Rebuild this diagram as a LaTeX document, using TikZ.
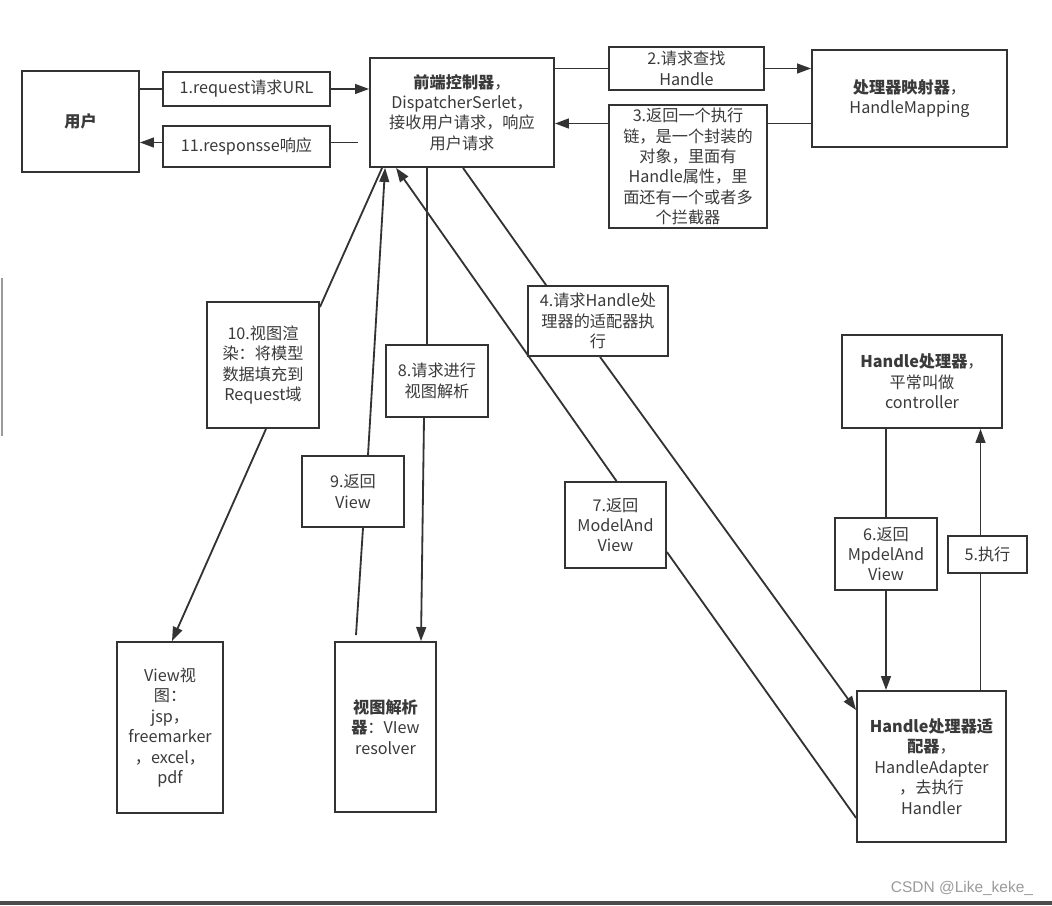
\documentclass[tikz,border=0pt]{standalone}
\usepackage{fontspec}
\setmainfont{Noto Sans CJK SC}
\newfontfamily\wmfont{Liberation Sans}
\usepackage{tikz}
\usetikzlibrary{positioning, arrows.meta, calc}
\usepackage{xcolor}
\definecolor{lineGray}{HTML}{333333}
\definecolor{textGray}{HTML}{3A3A3A}
\definecolor{markGray}{HTML}{9A9A9A}

\begin{document}
\begin{tikzpicture}[x=0.025cm, y=-0.025cm,
      box/.style={rectangle, draw=lineGray, line width=1.3pt, fill=white, align=center, inner sep=0pt, text=textGray, font=\fontsize{11.5}{14.5}\selectfont},
      sz/.style 2 args={minimum width=#1*0.025cm, minimum height=#2*0.025cm},
      link/.style={lineGray, line width=1.3pt},
      arr/.style={link, -{Triangle[length=10pt, width=7pt]}}
    ]
      \useasboundingbox (0,0) rectangle (1052,906);

      \node[box, sz={117}{101}] (user) at (80.5,121.5) {\textbf{用户}};
      \node[box, sz={167}{34}] (lab1) at (246.5,89) {1.request请求URL};
      \node[box, sz={167}{41}] (lab11) at (246.5,146.5) {11.responsse响应};
      \node[box, sz={184}{109}] (ctrl) at (462,112.5) {\textbf{前端控制器}，\\DispatcherSerlet，\\接收用户请求，响应\\用户请求};
      \node[box, sz={155}{43}] (lab2) at (686.5,68.5) {2.请求查找\\Handle};
      \node[box, sz={158}{123}] (lab3) at (688,166.5) {3.返回一个执行\\链，是一个封装的\\对象，里面有\\Handle属性，里\\面还有一个或者多\\个拦截器};
      \node[box, sz={195}{97}] (map) at (909.5,98.5) {\textbf{处理器映射器}，\\HandleMapping};

      \node[box, sz={160}{93}] (proc) at (922,381.5) {\textbf{Handle处理器}，\\平常叫做\\controller};
      \node[box, sz={102}{72}] (lab6) at (886,554) {6.返回\\MpdelAnd\\View};
      \node[box, sz={79}{37}] (lab5) at (987.5,554.5) {5.执行};
      \node[box, sz={149}{151}] (adapt) at (931.5,766.5) {\textbf{Handle处理器适}\\\textbf{配器}，\\HandleAdapter\\，去执行\\Handler};

      \node[box, sz={140}{70}] (lab4) at (598,321) {4.请求Handle处\\理器的适配器执\\行};
      \node[box, sz={101}{86}] (lab7) at (615.5,525) {7.返回\\ModelAnd\\View};
      \node[box, sz={102}{72}] (lab8) at (437,381) {8.请求进行\\视图解析};
      \node[box, sz={102}{71}] (lab9) at (353,491.5) {9.返回\\View};
      \node[box, sz={112}{126}] (lab10) at (263,365) {10.视图渲\\染：将模型\\数据填充到\\Request域};

      \node[box, sz={106}{171}] (view) at (170,727.5) {View视\\图：\\jsp，\\freemarker\\，excel，\\pdf};
      \node[box, sz={101}{170}] (res) at (385.5,727) {\textbf{视图解析}\\\textbf{器}：VIew\\resolver};

      \draw[link] (lab1.west -| user.east) -- (lab1.west);
      \draw[arr] (lab1.east) -- (lab1.east -| ctrl.west);
      \draw[link] ($(lab11.east -| ctrl.west)+(-11,-4)$) -- ($(lab11.east)+(0,-4)$);
      \draw[arr] ($(lab11.west)+(0,-4)$) -- ($(lab11.west -| user.east)+(0,-4)$);

      \draw[link] (lab2.west -| ctrl.east) -- (lab2.west);
      \draw[arr] (lab2.east) -- (lab2.east -| map.west);
      \coordinate (c3) at ($(lab3.east)+(0,-43)$);
      \draw[link] (c3 -| map.west) -- (c3);
      \draw[arr] (c3 -| lab3.west) -- (c3 -| ctrl.east);

      \draw[link] ($(ctrl.south)+(1,0)$) -- ($(lab4.north west)+(19,0)$);
      \draw[arr] ($(lab4.south)+(2,0)$) -- ($(adapt.north west)+(0,20)$);

      \coordinate (c5) at ($(lab5.south)+(-7,0)$);
      \draw[link] (c5 |- adapt.north) -- (c5);
      \draw[arr] (c5 |- lab5.north) -- (c5 |- proc.south);
      \draw[link] (lab6.north |- proc.south) -- (lab6.north);
      \draw[arr] (lab6.south) -- (lab6.south |- adapt.north);

      \draw[link] ($(adapt.south west)+(0,-25)$) -- ($(lab7.east)+(0,27)$);
      \draw[arr] ($(lab7.north)+(1,0)$) -- ($(ctrl.south west)+(27,0)$);

      \coordinate (c8) at ($(lab8.north)+(-10,0)$);
      \draw[link] (c8 |- ctrl.south) -- (c8);
      \draw[arr] ($(lab8.south)+(-13,0)$) -- ($(res.north)+(35.5,0)$);

      \draw[link] ($(res.north)+(-29.5,-6)$) -- ($(lab9.south)+(10,0)$);
      \draw[arr] ($(lab9.north)+(15,0)$) -- ($(ctrl.south west)+(16,0)$);

      \draw[link] ($(ctrl.south west)+(13,0)$) -- ($(lab10.north east)+(0,6)$);
      \draw[arr] ($(lab10.south)+(3,0)$) -- ($(view.north)+(2,0)$);

      \node[anchor=east, text=markGray, font=\wmfont\fontsize{11}{13}\selectfont] (mark) at (1038,888) {CSDN @Like\_keke\_};
      \coordinate (edgeL) at (0,903);
      \coordinate (edgeR) at (1052,903);
      \draw[markGray!50!black, line width=2.2pt] (edgeL) -- (edgeR);
      \coordinate (barT) at (2,278);
      \coordinate (barB) at (2,436);
      \draw[markGray, line width=2pt] (barT) -- (barB);
    \end{tikzpicture}
\end{document}
